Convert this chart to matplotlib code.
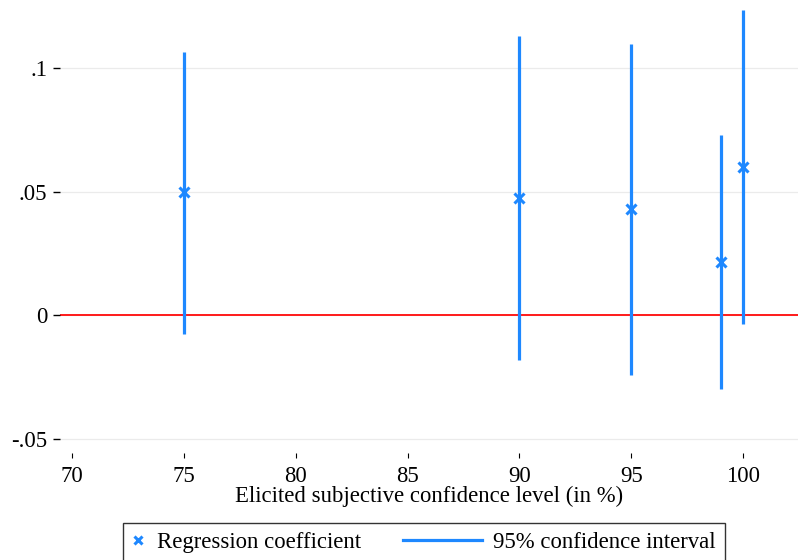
import matplotlib
matplotlib.use("Agg")
import matplotlib.pyplot as plt
from matplotlib.lines import Line2D
from matplotlib.legend_handler import HandlerLine2D

# point estimates and 95% CIs by elicited confidence level
levels = [75, 90, 95, 99, 100]
coef = [0.0498, 0.0474, 0.0429, 0.0215, 0.0599]
ci_lo = [-0.0077, -0.0182, -0.0243, -0.0296, -0.0036]
ci_hi = [0.1065, 0.1130, 0.1097, 0.0729, 0.1235]

xticks = [70, 75, 80, 85, 90, 95, 100]
yticks = [-0.05, 0, 0.05, 0.1]
ylabels = ["-.05", "0", ".05", ".1"]

blue = "#1e88ff"
plt.rcParams["font.family"] = ["Liberation Serif", "DejaVu Serif"]
fs = 16.4


class LongLine(HandlerLine2D):
    # stretch the line handle to the left so the marker entry can stay narrow
    def create_artists(self, legend, orig_handle, xdescent, ydescent, width, height, fontsize, trans):
        arts = super().create_artists(legend, orig_handle, xdescent, ydescent, width, height, fontsize, trans)
        x1 = -xdescent + width + 0.06 * fontsize
        yc = (height - ydescent) / 2
        arts[0].set_data([x1 - 3.47 * fontsize, x1], [yc, yc])
        return arts


fig = plt.figure(figsize=(7.98, 5.6), dpi=100)
ax = fig.add_axes([60 / 798, 1 - 453 / 560, 738 / 798, 453 / 560])

for y in yticks:
    ax.axhline(y, color="#ebebeb", lw=0.9, zorder=0)
ax.axhline(0, color="#ff1a1a", lw=1.4, zorder=1)

ax.vlines(levels, ci_lo, ci_hi, color=blue, lw=2.3, zorder=2)
ax.plot(levels, coef, "x", color=blue, ms=7, mew=2.2, zorder=3)

ax.set_xlim(69.463, 102.459)
ax.set_ylim(-0.05567, 0.12753)
ax.set_xticks(xticks)
ax.set_yticks(yticks)
ax.set_yticklabels(ylabels)
for s in ax.spines.values():
    s.set_visible(False)
ax.tick_params(axis="y", length=5, width=1, pad=4, labelsize=fs)
ax.tick_params(axis="x", length=3.6, width=0.8, pad=6, labelsize=fs)
ax.set_xlabel("Elicited subjective confidence level (in %)", fontsize=fs, labelpad=-1)

h_coef = Line2D([], [], ls="none", marker="x", color=blue, ms=6, mew=2.2)
h_ci = Line2D([], [], color=blue, lw=2.3)
leg = ax.legend([h_coef, h_ci], ["Regression coefficient", "95% confidence interval"],
                ncol=2, loc="upper left", bbox_to_anchor=(123 / 798, 1 - 523 / 560),
                bbox_transform=fig.transFigure, fontsize=fs, frameon=True, fancybox=False,
                handlelength=0.5, handletextpad=0.58, columnspacing=4.74,
                borderpad=0.4, borderaxespad=0, handler_map={h_ci: LongLine()})
leg.get_frame().set_edgecolor("black")
leg.get_frame().set_linewidth(1.0)

fig.savefig("out.png", dpi=100)
